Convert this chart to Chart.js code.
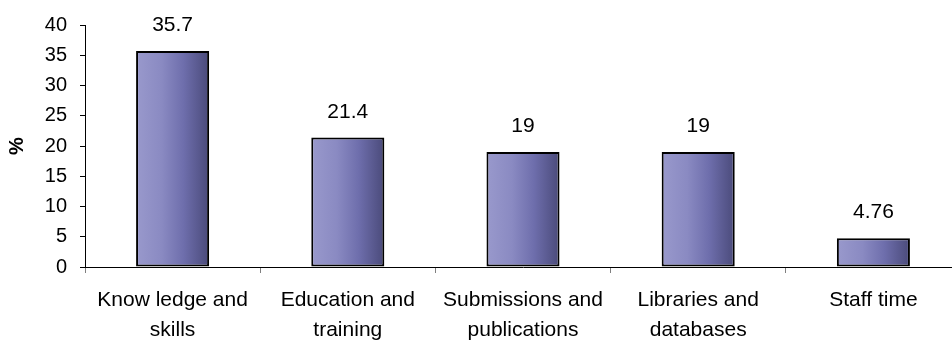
<!DOCTYPE html>
<html>
<head>
<meta charset="utf-8">
<script src="https://cdn.jsdelivr.net/npm/chart.js@4/dist/chart.umd.min.js"></script>
<style>
  html, body { margin: 0; padding: 0; background: #fff; overflow: hidden; }
  #wrap { width: 962px; height: 340px; }
</style>
</head>
<body>
<div id="wrap"><canvas id="c" width="962" height="340"></canvas></div>
<script>
// Categories and share of responses (%)
const categories = [
  ["Know ledge and", "skills"],
  ["Education and", "training"],
  ["Submissions and", "publications"],
  ["Libraries and", "databases"],
  ["Staff time"]
];
const percentages = [35.7, 21.4, 19, 19, 4.76];
const yTicks = [0, 5, 10, 15, 20, 25, 30, 35, 40];

const FONT = "'Liberation Sans', Arial, sans-serif";
const BAR_PCT = 0.417;

// Horizontal shaded fill for each bar, light on the left, dark on the right
function barFill(ctx) {
  const chart = ctx.chart;
  const xs = chart.scales && chart.scales.x;
  if (!xs || ctx.dataIndex === undefined) return '#7474b2';
  const cx = xs.getPixelForValue(ctx.dataIndex);
  const w = (xs.width / categories.length) * BAR_PCT;
  if (!isFinite(cx) || !isFinite(w) || w <= 0) return '#7474b2';
  const g = chart.ctx.createLinearGradient(cx - w / 2, 0, cx + w / 2, 0);
  g.addColorStop(0, '#9999cc');
  g.addColorStop(0.35, '#8a8ac2');
  g.addColorStop(0.65, '#6e6eac');
  g.addColorStop(1, '#4a4a7a');
  return g;
}

// Value printed above each bar
const valueLabels = {
  id: 'valueLabels',
  afterDatasetsDraw(chart) {
    const c = chart.ctx;
    const meta = chart.getDatasetMeta(0);
    c.save();
    c.font = '21px ' + FONT;
    c.fillStyle = '#000';
    c.textAlign = 'center';
    c.textBaseline = 'alphabetic';
    meta.data.forEach((bar, i) => {
      c.fillText(String(percentages[i]), bar.x, bar.y - 20);
    });
    c.restore();
  }
};

new Chart(document.getElementById('c'), {
  type: 'bar',
  data: {
    labels: categories,
    datasets: [{
      data: percentages,
      backgroundColor: barFill,
      borderColor: '#000',
      borderWidth: 2,
      borderSkipped: false,
      barPercentage: BAR_PCT,
      categoryPercentage: 1
    }]
  },
  options: {
    responsive: false,
    animation: false,
    devicePixelRatio: 1,
    layout: { padding: { top: 24, right: 1, bottom: 0, left: 0 } },
    plugins: {
      legend: { display: false },
      tooltip: { enabled: false }
    },
    scales: {
      x: {
        grid: {
          offset: true,
          drawOnChartArea: false,
          drawTicks: true,
          tickLength: 6,
          color: '#808080',
          lineWidth: 1
        },
        border: { color: '#000', width: 1 },
        ticks: {
          color: '#000',
          font: { family: FONT, size: 21, lineHeight: 1.42 },
          padding: 12,
          maxRotation: 0,
          autoSkip: false
        },
        afterFit(scale) { scale.height = 73; }
      },
      y: {
        min: 0,
        max: 40,
        afterBuildTicks(scale) { scale.ticks = yTicks.map(v => ({ value: v })); },
        grid: {
          drawOnChartArea: false,
          drawTicks: true,
          tickLength: 5,
          color: '#000',
          lineWidth: 1
        },
        border: { color: '#000', width: 1 },
        ticks: {
          color: '#000',
          font: { family: FONT, size: 20 },
          padding: 13
        },
        title: {
          display: true,
          text: '%',
          color: '#000',
          font: { family: FONT, size: 20, weight: 'bold' },
          padding: { top: 5, bottom: 0 }
        },
        afterFit(scale) { scale.width = 85; }
      }
    }
  },
  plugins: [valueLabels]
});
</script>
</body>
</html>
